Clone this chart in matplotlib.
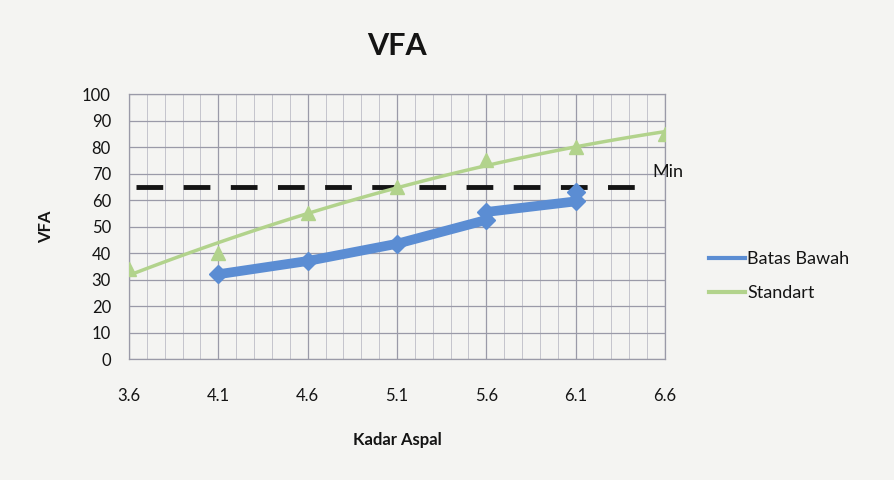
import matplotlib
matplotlib.use("Agg")
import matplotlib.pyplot as plt
import numpy as np
from matplotlib.ticker import MultipleLocator

plt.rcParams["font.family"] = ["Lato", "DejaVu Sans"]

# data
kadar_ticks = [3.6, 4.1, 4.6, 5.1, 5.6, 6.1, 6.6]
batas_x = [4.1, 4.6, 5.1, 5.6, 5.6, 6.1, 6.1]
batas_y = [32, 37, 43.5, 52.5, 55.5, 59.5, 63]
std_x = [3.6, 4.1, 4.6, 5.1, 5.6, 6.1, 6.6]
std_y = [34, 40, 55, 65, 75, 80, 85]
min_x = [3.64, 6.43]
min_y = [65, 65]
min_label = "Min"

BG = "#f4f4f2"
BLUE = "#5b8dd3"
GREEN = "#b2d38c"
TXT = "#141414"

fig = plt.figure(figsize=(8.94, 4.8), dpi=100, facecolor=BG)
ax = fig.add_axes([0.1443, 0.252, 0.5995, 0.552], facecolor=BG)

# grid
ax.set_xlim(3.6, 6.6)
ax.set_ylim(0, 100)
ax.set_xticks(kadar_ticks)
ax.xaxis.set_minor_locator(MultipleLocator(0.1))
ax.yaxis.set_major_locator(MultipleLocator(10))
ax.grid(which="major", color="#9a9aa8", linewidth=0.9)
ax.grid(which="minor", axis="x", color="#c4c4cc", linewidth=0.7)
ax.set_axisbelow(True)
for sp in ax.spines.values():
    sp.set_color("#9a9aa8")
    sp.set_linewidth(0.9)
ax.tick_params(which="both", length=0)
ax.tick_params(axis="y", pad=13, labelsize=12, colors=TXT)
ax.tick_params(axis="x", pad=21, labelsize=12, colors=TXT)

# min line
ax.plot(min_x, min_y, color=TXT, linewidth=3.5, dashes=(5.5, 4.2))
ax.text(6.53, 70.5, min_label, fontsize=13, va="center", ha="left", color=TXT)

# standart: markers + polynomial trendline
coef = np.polyfit(std_x, std_y, 2)
xs = np.linspace(min(std_x), max(std_x), 100)
ax.plot(xs, np.polyval(coef, xs), color=GREEN, linewidth=2.5, zorder=3)
ax.plot(std_x, std_y, linestyle="none", marker="^", markersize=10, color=GREEN, zorder=3)

# batas bawah
ax.plot(batas_x, batas_y, color=BLUE, linewidth=7, solid_capstyle="round",
        solid_joinstyle="round", zorder=4)
ax.plot(batas_x, batas_y, linestyle="none", marker="D", markersize=9, color=BLUE, zorder=4)

ax.set_title("VFA", fontsize=22, fontweight="bold", pad=28, color=TXT)
ax.set_xlabel("Kadar Aspal", fontsize=12, fontweight="bold", labelpad=20, color=TXT)
ax.set_ylabel("VFA", fontsize=12, fontweight="bold", labelpad=20, color=TXT)

fig.legend([plt.Line2D([], [], color=BLUE, linewidth=3), plt.Line2D([], [], color=GREEN, linewidth=3)],
           ["Batas Bawah", "Standart"], loc="center left", bbox_to_anchor=(0.775, 0.425),
           frameon=False, fontsize=13, handlelength=2.0, handletextpad=0.1, labelspacing=1.0,
           labelcolor=TXT)

fig.savefig("out.png", dpi=100, facecolor=BG)
